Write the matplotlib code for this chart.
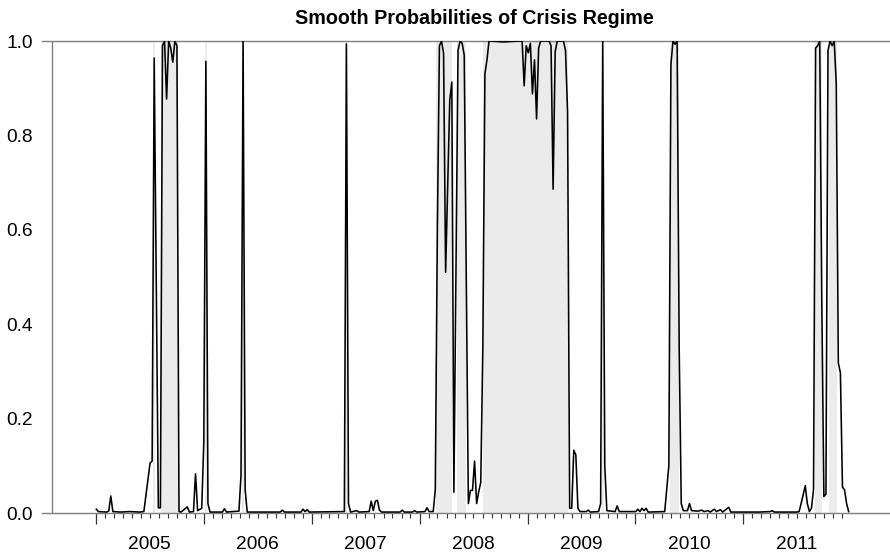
"""
Smooth probabilities of the crisis regime, weekly, 2005-2011.
Shaded bands mark weeks classified as crisis regime.
"""
import numpy as np
import pandas as pd
import matplotlib
matplotlib.use("Agg")
import matplotlib.pyplot as plt
import matplotlib.ticker as mticker

plt.rcParams.update({
    "font.family": ["Liberation Sans", "DejaVu Sans"],
    "font.size": 13.8,
})

START = pd.Timestamp("2005-01-01")

# week index (since START) and smoothed crisis probability
WEEKS = [
    0, 1, 5, 6, 7, 8, 12, 16, 21, 23, 26, 27, 28, 30, 31, 32, 33, 34, 35, 36,
    37, 38, 39, 40, 41, 44, 45, 47, 48, 49, 51, 52, 53, 54, 55, 61, 62, 63, 69, 70,
    71, 72, 73, 89, 90, 91, 99, 100, 101, 102, 103, 120, 121, 122, 123, 126, 127, 132, 133, 134,
    135, 136, 137, 138, 147, 148, 149, 153, 154, 155, 159, 160, 161, 163, 164, 165, 166, 167, 168, 169,
    171, 172, 173, 175, 176, 177, 178, 180, 181, 182, 183, 184, 185, 186, 187, 188, 189, 190, 197, 205,
    206, 207, 208, 209, 210, 211, 212, 213, 214, 215, 219, 220, 221, 222, 223, 226, 227, 228, 229, 230,
    231, 232, 233, 234, 237, 238, 239, 243, 244, 245, 246, 247, 251, 252, 253, 261, 262, 263, 264, 265,
    266, 267, 275, 277, 278, 279, 280, 281, 282, 283, 284, 286, 287, 288, 291, 293, 294, 296, 297, 299,
    300, 302, 303, 306, 307, 321, 326, 327, 328, 339, 340, 341, 343, 344, 345, 346, 347, 348, 349, 350,
    351, 352, 353, 354, 355, 356, 357, 358, 359, 360, 361, 362, 363, 364,
]
PROBS = [
    0.008, 0.003, 0.002, 0.004, 0.036, 0.003, 0.002, 0.003, 0.002, 0.003,
    0.106, 0.11, 0.964, 0.011, 0.011, 0.99, 1.0, 0.877, 1.0, 0.985,
    0.955, 1.0, 0.99, 0.003, 0.002, 0.013, 0.002, 0.003, 0.083, 0.005,
    0.01, 0.15, 0.957, 0.02, 0.002, 0.002, 0.009, 0.002, 0.004, 0.08,
    1.0, 0.05, 0.002, 0.002, 0.006, 0.002, 0.002, 0.008, 0.003, 0.007,
    0.002, 0.003, 0.994, 0.02, 0.002, 0.005, 0.002, 0.003, 0.025, 0.005,
    0.025, 0.027, 0.006, 0.002, 0.002, 0.006, 0.002, 0.002, 0.005, 0.002,
    0.003, 0.011, 0.003, 0.003, 0.05, 0.6, 0.99, 1.0, 0.974, 0.51,
    0.875, 0.913, 0.044, 0.98, 1.0, 0.995, 0.97, 0.02, 0.048, 0.048,
    0.11, 0.02, 0.045, 0.065, 0.35, 0.93, 0.96, 1.0, 0.998, 1.0,
    1.0, 0.905, 0.99, 0.975, 0.995, 0.888, 0.96, 0.835, 0.985, 1.0,
    1.0, 0.99, 0.686, 0.977, 1.0, 1.0, 0.98, 0.85, 0.01, 0.01,
    0.133, 0.123, 0.01, 0.003, 0.003, 0.006, 0.002, 0.003, 0.02, 1.0,
    0.1, 0.005, 0.003, 0.015, 0.003, 0.003, 0.008, 0.003, 0.01, 0.005,
    0.01, 0.002, 0.003, 0.1, 0.95, 1.0, 0.993, 1.0, 0.35, 0.02,
    0.005, 0.005, 0.02, 0.005, 0.004, 0.006, 0.003, 0.005, 0.002, 0.008,
    0.003, 0.007, 0.002, 0.012, 0.002, 0.002, 0.003, 0.005, 0.002, 0.002,
    0.003, 0.02, 0.058, 0.02, 0.003, 0.01, 0.05, 0.985, 0.99, 1.0,
    0.45, 0.035, 0.04, 0.98, 1.0, 0.99, 1.0, 0.91, 0.318, 0.297,
    0.055, 0.049, 0.02, 0.003,
]

# crisis regime periods, in weeks since START
CRISIS_WEEKS = [
    (27.5, 28.5), (31.5, 39.5), (52.5, 53.5), (70.5, 71.5), (120.5, 121.5),
    (164.4, 172.0), (174.5, 179.0), (187.0, 228.0), (244.5, 245.5),
    (277.5, 281.8), (347.8, 351.0), (354.5, 358.5),
]

YEARS = list(range(2005, 2012))
Y_TICKS = [0.0, 0.2, 0.4, 0.6, 0.8, 1.0]


def week_to_date(w):
    return START + pd.Timedelta(days=7 * w)


def main():
    fig = plt.figure(figsize=(8.9, 5.52), dpi=100)
    ax = fig.add_axes([42 / 890, 1 - 513 / 552, 848 / 890, 472 / 552])

    dates = [week_to_date(w) for w in WEEKS]

    for a, b in CRISIS_WEEKS:
        ax.axvspan(week_to_date(a), week_to_date(b), color="#ebebeb", lw=0, zorder=0)
    ax.plot(dates, PROBS, color="black", lw=1.15, zorder=3)

    ax.set_xlim(pd.Timestamp("2004-07-01"), pd.Timestamp("2012-05-12"))
    ax.set_ylim(0, 1)
    for s in ax.spines.values():
        s.set_visible(False)

    axis_col = "#7f7f7f"
    ax.axhline(0, color=axis_col, lw=1.0, clip_on=False, zorder=2)
    ax.axhline(1, color=axis_col, lw=1.0, clip_on=False, zorder=2)
    ax.axvline(pd.Timestamp("2004-08-04"), color=axis_col, lw=1.0, zorder=2)

    # y axis
    ax.set_yticks(Y_TICKS)
    ax.yaxis.set_major_formatter(mticker.FormatStrFormatter("%.1f"))
    ax.tick_params(axis="y", length=0, pad=6.5)

    # x axis: long ticks at year starts, short monthly ticks, labels mid-year
    ax.set_xticks([pd.Timestamp(f"{y}-01-01") for y in YEARS])
    ax.set_xticklabels([])
    months = pd.date_range("2005-01-01", "2011-12-01", freq="MS")
    ax.set_xticks(list(months), minor=True)
    ax.tick_params(axis="x", which="major", length=8, width=0.9, color="#333333")
    ax.tick_params(axis="x", which="minor", length=3.3, width=0.8, color="#333333")
    for y in YEARS:
        ax.text(pd.Timestamp(f"{y}-07-01"), -0.0763, str(y), transform=ax.get_xaxis_transform(),
                ha="center", va="baseline")

    fig.text(474.5 / 890, 1 - 24 / 552, "Smooth Probabilities of Crisis Regime",
             ha="center", va="baseline", fontweight="bold", fontsize=14.2)

    fig.savefig("out.png", dpi=100)


if __name__ == "__main__":
    main()
